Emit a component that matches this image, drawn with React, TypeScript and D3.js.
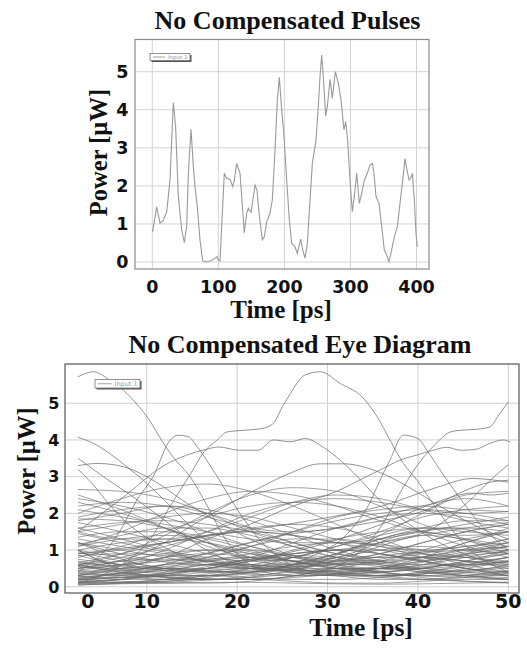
import React from 'react';
import * as d3 from 'd3';

// ---------- Top chart: No Compensated Pulses ----------
const pulseTitle = 'No Compensated Pulses';
const pulseTimes = [0,0.5,6.6,11.7,16.7,21.8,26.8,31.8,35.3,39.4,44.5,48.5,52,54.6,58.6,62.1,64.6,68.1,72.2,76.3,82.3,89.9,95,97.5,100,102.5,106,109,112.6,117.6,121.7,124.2,127.7,132.8,135.3,139.3,142.9,145.4,149.5,153,155.5,158.5,161.6,166.6,169.6,173.2,178.2,181.7,185.8,189.3,192.3,195.9,199.4,203.5,207.4,211,216,219.5,224.6,227.7,231.2,234.7,238.8,242.3,247.8,251.3,253.9,256.4,258.9,262.5,265,269,272.5,277.1,281.6,285.7,290.2,292.8,295.8,299.3,302.8,305.8,309.5,313.4,317,321,325.5,329.6,333.1,335.6,338.7,343.2,347.3,351.2,354.9,358.4,362.4,365.9,371,375,379.1,382.6,385.1,388.7,391.2,393.7,396.7,399.2,401.2];
const pulsePower = [0.86,0.8,1.45,1.02,1.1,1.32,2.15,4.19,3.55,1.72,0.84,0.51,0.93,2.33,3.49,2.5,1.98,1.45,0.58,0.03,0.0,0.04,0.1,0.14,0.05,0.03,1.28,2.33,2.2,2.17,1.98,2.15,2.59,2.33,1.72,0.77,1.28,1.41,1.3,1.72,2.02,1.89,1.28,0.58,0.66,1.06,1.28,1.63,2.94,4.26,4.85,4.0,3.29,2.15,1.1,0.49,0.4,0.23,0.6,0.32,0.1,0.49,1.63,2.59,3.2,4.08,4.87,5.44,4.87,3.84,4.08,4.8,4.3,5.0,4.7,4.26,3.47,3.69,3.2,2.15,1.32,1.72,2.33,1.54,1.8,2.15,2.33,2.55,2.59,2.33,1.72,1.54,0.93,0.32,0.18,0.01,0.32,0.62,0.93,1.54,2.15,2.72,2.46,2.15,2.2,2.33,1.63,0.75,0.4];
const pulseXTicks = [0, 100, 200, 300, 400];
const pulseYTicks = [0, 1, 2, 3, 4, 5];

// ---------- Bottom chart: No Compensated Eye Diagram ----------
const eyeTitle = 'No Compensated Eye Diagram';
const eyeXTicks = [10, 20, 30, 40, 50];
const eyeXTickLabels = ['0', '10', '20', '30', '40', '50'];
const eyeXTickPos = [3.5, 10, 20, 30, 40, 50];
const eyeYTicks = [0, 1, 2, 3, 4, 5];

// prominent traces as [time, power] pairs
const eyeTraceA = [[2.4,5.72],[4.1,5.86],[5.9,5.63],[7.4,5.36],[9.0,4.95],[10.4,4.5],[11.5,4.05],[12.9,3.54],[14.8,3.0],[16.7,2.2],[18.7,1.3],[20.9,0.7],[23.6,0.45],[27,0.5],[31.4,0.9],[35.8,1.3],[40.2,1.5],[44.7,1.3],[50,0.9]];
const eyeTraceB = [[2.4,0.1],[7.2,0.6],[10.4,1.3],[12.6,2.2],[15.1,3.18],[16.2,3.63],[17.8,4.0],[18.9,4.22],[21.1,4.27],[22.9,4.32],[24,4.45],[25,4.9],[25.9,5.27],[27.5,5.77],[29.2,5.86],[31.4,5.54],[33.8,5.18],[35.5,4.63],[36.9,4.0],[38.4,3.36],[39.9,2.9],[42.4,2.0],[45.8,1.0],[50,0.4]];
const eyeTraceD = [[2.4,1.0],[10.4,0.3],[21.4,0.2],[30.3,0.5],[35.8,1.6],[38.6,2.8],[40.2,3.4],[41.3,3.72],[42.4,4.0],[43.6,4.22],[45,4.27],[46.5,4.29],[48,4.36],[48.8,4.63],[50,5.04]];
const eyeTraceE = [[2.4,4.07],[4.1,3.91],[5.9,3.63],[7.8,3.27],[9.6,2.91],[12.6,2.2],[15.9,1.4],[20.3,0.8],[25.9,0.6],[32.5,0.9],[38,1.4],[43.6,1.6],[50,1.2]];
const eyeTraceF = [[2.4,1.5],[7.2,2.4],[11.9,3.3],[16.7,3.75],[17.9,3.81],[20.3,3.72],[22.3,3.72],[24,4.0],[25.9,3.95],[27.5,4.04],[29.5,3.81],[31.4,3.45],[33.3,3.0],[36,2.3],[40.3,1.5],[45,0.9],[50,0.6]];
const eyeTraceF2 = [[2.4,1.0],[7.2,0.6],[12,0.8],[16.7,1.3],[21.4,1.7],[26.2,2.2],[31,2.6],[34.3,3.0],[36.2,3.23],[38,3.45],[39.9,3.59],[41.7,3.72],[43.2,3.8],[44.7,3.72],[46.3,3.74],[48,3.91],[49.4,4.0],[50.2,3.95]];
const eyeTraceJ = [[2.4,0.4],[7,1.5],[8.9,2.36],[10.7,3.0],[12.6,4.0],[13.5,4.13],[14.6,4.09],[15.6,3.81],[17.8,3.0],[20.3,2.0],[23.6,1.0],[29.2,0.4],[35.8,0.5],[43.6,0.8],[50,1.1]];
const eyeTraceJ2 = [[2.4,1.2],[12,0.5],[21.4,0.4],[28,0.8],[32,1.4],[34.7,2.3],[35.8,2.9],[36.9,3.45],[38.4,4.13],[40,4.04],[41,3.72],[42.4,3.2],[44.7,2.4],[46.9,1.7],[50,1.0]];
const eyeTraceH = [[2.4,3.3],[4.5,3.36],[6.7,3.31],[8.5,3.18],[10,3.0],[12,2.7],[13.7,2.4],[17,1.9],[21.4,1.3],[27,0.8],[33.6,0.6],[40.2,0.8],[50,1.3]];
const eyeTraceH2 = [[2.4,0.5],[10.4,1.0],[15.9,1.8],[22.5,2.7],[25.9,3.1],[29.2,3.35],[31.9,3.35],[34.2,3.25],[36.4,3.05],[39.1,2.7],[42.4,2.2],[46.9,1.6],[50,1.3]];
const eyeTraceG = [[2.4,3.5],[3.7,3.27],[5.2,3.0],[8.2,2.5],[11.5,1.9],[15.9,1.1],[21.4,0.5],[27,0.3],[35.8,0.4],[43.6,0.6],[50,0.8]];
const eyeTraceI = [[2.4,3.2],[4,2.8],[6,2.2],[8,1.7],[11,1.2],[16,0.7],[22,0.5],[30,0.6],[38,0.9],[45,1.0],[50,1.1]];
const eyeTraceR1 = [[2.4,0.6],[10,0.3],[18,0.2],[25,0.4],[32,0.8],[37,1.2],[41.7,1.6],[45.5,2.3],[48,2.9],[50,3.33]];
const eyeTraceR2 = [[2.4,0.2],[10,0.5],[18,1.0],[25,1.4],[31,1.6],[36,1.8],[41,2.1],[45,2.6],[48,2.85],[50,2.9]];
const eyeTraceR3 = [[2.4,1.2],[9,0.8],[16,0.6],[23,0.8],[30,1.2],[37,1.8],[42,2.3],[46,2.55],[48,2.5],[50,2.55]];
const eyeTraceR4 = [[2.4,0.9],[12,1.2],[20,1.5],[28,1.8],[36,2.2],[42,2.7],[46,2.95],[50,2.85]];

// dense traces sampled on a common time grid
const eyeTimes = [2.4, 7.2, 12, 16.7, 21.5, 26.2, 31, 35.8, 40.5, 45.3, 50];
const eyeDense = [
  [1.85,1.8,1.6,1.2,0.8,0.5,0.4,0.5,0.8,1.2,1.5],
  [1.8,2.0,2.2,2.1,1.8,1.4,1.0,0.7,0.5,0.4,0.4],
  [1.6,1.3,1.0,0.8,0.7,0.8,1.1,1.5,1.9,2.1,2.2],
  [1.5,1.7,1.9,2.0,1.9,1.6,1.3,1.1,1.0,1.1,1.3],
  [1.2,1.0,0.8,0.6,0.5,0.6,0.9,1.3,1.6,1.8,1.8],
  [1.15,1.4,1.6,1.6,1.4,1.1,0.8,0.6,0.5,0.6,0.8],
  [0.95,0.7,0.5,0.4,0.4,0.6,0.9,1.2,1.4,1.3,1.1],
  [0.6,0.8,1.1,1.4,1.6,1.7,1.6,1.3,0.9,0.6,0.4],
  [0.55,0.4,0.3,0.3,0.4,0.6,0.8,1.0,1.1,1.0,0.9],
  [0.5,0.6,0.7,0.9,1.2,1.5,1.8,2.0,2.1,2.0,1.8],
  [0.4,0.3,0.2,0.2,0.3,0.4,0.5,0.5,0.4,0.3,0.2],
  [0.3,0.5,0.8,1.0,1.0,0.8,0.6,0.4,0.3,0.3,0.4],
  [0.2,0.15,0.1,0.1,0.15,0.3,0.5,0.7,0.8,0.7,0.5],
  [0.15,0.2,0.3,0.5,0.7,0.9,1.0,0.9,0.7,0.5,0.3],
  [0.1,0.1,0.15,0.2,0.2,0.15,0.1,0.1,0.15,0.2,0.2],
  [2.3,2.0,1.6,1.2,0.9,0.7,0.7,0.9,1.2,1.5,1.7],
  [2.4,2.2,1.9,1.5,1.1,0.8,0.6,0.5,0.6,0.8,1.0],
  [2.65,2.6,2.4,2.0,1.5,1.1,0.8,0.7,0.8,1.0,1.2],
  [0.8,1.1,1.5,1.9,2.2,2.3,2.2,1.9,1.5,1.1,0.8],
  [1.0,0.8,0.7,0.8,1.1,1.5,1.9,2.1,2.2,2.1,2.05],
  [0.7,0.5,0.4,0.5,0.7,1.0,1.3,1.5,1.6,1.5,1.4],
  [0.45,0.6,0.8,0.9,0.8,0.6,0.4,0.3,0.35,0.5,0.7],
  [0.35,0.3,0.35,0.5,0.7,0.9,1.0,0.9,0.7,0.5,0.35],
  [0.25,0.35,0.5,0.6,0.6,0.5,0.35,0.25,0.2,0.25,0.35],
  [0.12,0.2,0.35,0.55,0.75,0.85,0.8,0.65,0.45,0.3,0.2],
  [0.05,0.08,0.1,0.12,0.12,0.1,0.08,0.07,0.08,0.1,0.12],
  [1.3,1.1,0.9,0.7,0.5,0.4,0.35,0.4,0.5,0.7,0.9],
  [1.75,1.5,1.2,0.9,0.6,0.4,0.3,0.3,0.4,0.6,0.8],
  [1.6,1.75,1.8,1.7,1.5,1.2,0.9,0.7,0.6,0.6,0.7],
  [0.9,1.0,1.2,1.4,1.5,1.4,1.2,0.9,0.7,0.5,0.4],
  [0.6,0.45,0.35,0.3,0.35,0.5,0.7,0.9,1.2,1.5,1.7],
  [0.5,0.7,0.9,1.0,0.9,0.7,0.5,0.5,0.6,0.9,1.2],
  [0.3,0.2,0.2,0.3,0.5,0.8,1.1,1.4,1.6,1.6,1.5],
  [0.2,0.3,0.5,0.8,1.1,1.3,1.3,1.1,0.8,0.5,0.3],
  [0.18,0.25,0.3,0.3,0.25,0.2,0.2,0.25,0.35,0.45,0.5],
  [0.1,0.2,0.4,0.6,0.6,0.45,0.3,0.2,0.2,0.3,0.45],
  [1.1,1.3,1.4,1.3,1.0,0.7,0.5,0.4,0.5,0.7,1.0],
  [0.75,0.6,0.5,0.5,0.6,0.8,1.0,1.0,0.9,0.8,0.7],
  [2.1,1.9,1.7,1.5,1.3,1.2,1.2,1.3,1.5,1.7,1.9],
  [0.4,0.5,0.6,0.7,0.8,0.9,1.0,1.2,1.4,1.6,1.75],
  [1.45,1.2,0.95,0.75,0.6,0.55,0.6,0.75,0.95,1.1,1.2],
  [0.65,0.9,1.2,1.4,1.5,1.4,1.2,1.0,0.8,0.7,0.65],
  [0.28,0.25,0.3,0.4,0.55,0.65,0.65,0.55,0.4,0.3,0.25],
  [0.08,0.12,0.2,0.3,0.4,0.45,0.4,0.3,0.2,0.15,0.12],
  [1.9,2.1,2.2,2.0,1.6,1.2,0.9,0.8,0.9,1.2,1.6],
  [0.85,0.6,0.45,0.5,0.8,1.2,1.6,1.9,2.0,1.9,1.7],
  [0.22,0.4,0.6,0.75,0.8,0.7,0.5,0.35,0.3,0.4,0.6],
  [1.0,1.2,1.3,1.2,0.95,0.7,0.6,0.7,1.0,1.3,1.5],
  [0.15,0.12,0.15,0.25,0.4,0.5,0.5,0.4,0.3,0.25,0.2],
  [0.55,0.5,0.55,0.7,0.9,1.1,1.2,1.15,1.0,0.8,0.65],
  [0.35,0.45,0.5,0.45,0.35,0.3,0.35,0.5,0.7,0.9,1.0],
  [1.35,1.5,1.5,1.35,1.1,0.85,0.7,0.65,0.75,0.95,1.1],
  [2.0,2.4,2.7,2.8,2.6,2.2,1.7,1.2,0.9,0.8,0.9],
  [0.6,0.9,1.4,2.0,2.5,2.7,2.6,2.2,1.7,1.3,1.0],
  [1.1,1.5,2.0,2.4,2.6,2.5,2.2,1.8,1.5,1.4,1.5],
  [2.2,2.3,2.2,1.9,1.6,1.5,1.6,1.9,2.2,2.4,2.2],
  [0.3,0.6,1.0,1.5,2.0,2.3,2.4,2.3,2.1,2.0,2.05],
  [1.5,1.3,1.3,1.5,1.9,2.3,2.5,2.4,2.1,1.8,1.6],
  [2.5,2.1,1.6,1.1,0.8,0.7,0.9,1.4,2.0,2.5,2.6],
  [0.05,0.1,0.2,0.35,0.5,0.6,0.55,0.4,0.25,0.15,0.1],
  [0.45,0.35,0.25,0.2,0.2,0.25,0.35,0.45,0.55,0.6,0.6],
  [0.65,0.55,0.45,0.4,0.45,0.55,0.7,0.8,0.8,0.7,0.55],
  [0.2,0.25,0.35,0.45,0.5,0.45,0.35,0.3,0.35,0.45,0.55],
  [0.85,0.9,0.85,0.7,0.55,0.45,0.45,0.55,0.7,0.85,0.95],
  [0.12,0.1,0.12,0.18,0.25,0.35,0.45,0.5,0.5,0.4,0.3],
  [0.58,0.7,0.75,0.7,0.55,0.4,0.3,0.3,0.4,0.55,0.7],
  [0.32,0.35,0.45,0.6,0.75,0.8,0.75,0.6,0.45,0.35,0.3],
];

const eyeProminent = [eyeTraceA, eyeTraceB, eyeTraceD, eyeTraceE, eyeTraceF, eyeTraceF2, eyeTraceJ, eyeTraceJ2, eyeTraceH, eyeTraceH2, eyeTraceG, eyeTraceI, eyeTraceR1, eyeTraceR2, eyeTraceR3, eyeTraceR4];

const legendLabel = 'Input 1';
const yLabel = 'Power [µW]';
const xLabel = 'Time [ps]';

const SERIF = "'Liberation Serif', 'Times New Roman', serif";
const SANS = "'DejaVu Sans', Verdana, sans-serif";

function Legend({ x, y, w, h, fs }: { x: number; y: number; w: number; h: number; fs: number }) {
  return (
    <g>
      <rect x={x + 1.5} y={y + 1.5} width={w} height={h} fill="#555" />
      <rect x={x} y={y} width={w} height={h} fill="#fff" stroke="#777" strokeWidth={0.8} />
      <line x1={x + 3} x2={x + 3 + w * 0.3} y1={y + h / 2} y2={y + h / 2} stroke="#888" strokeWidth={0.8} />
      <text x={x + 6 + w * 0.3} y={y + h / 2 + fs * 0.36} fontSize={fs} fill="#999" fontFamily={SANS}>{legendLabel}</text>
    </g>
  );
}

export default function App() {
  // top chart layout
  const tL = 135, tR = 429, tT = 39.5, tB = 269;
  const xTop = d3.scaleLinear().domain([-26.2, 418.9]).range([tL, tR]);
  const yTop = d3.scaleLinear().domain([-0.184, 5.846]).range([tB, tT]);
  const pulseLine = d3.line<number>()
    .x((_, i) => xTop(pulseTimes[i]))
    .y((d) => yTop(d));

  // bottom chart layout
  const bL = 65, bR = 519, bT = 364, bB = 593;
  const xEye = d3.scaleLinear().domain([0.96, 51.18]).range([bL, bR]);
  const yEye = d3.scaleLinear().domain([-0.17, 6.07]).range([bB, bT]);
  const eyeLinePairs = d3.line<number[]>()
    .x((d) => xEye(d[0]))
    .y((d) => yEye(d[1]))
    .curve(d3.curveMonotoneX);
  const eyeLineDense = d3.line<number>()
    .x((_, i) => xEye(eyeTimes[i]))
    .y((d) => yEye(d))
    .curve(d3.curveMonotoneX);

  return (
    <svg width={527} height={648} style={{ position: 'absolute', left: 0, top: 0, background: '#fff' }}>
      <rect width={527} height={648} fill="#fff" />
      {/* ---------- top chart ---------- */}
      <text x={287.5} y={29} textAnchor="middle" fontFamily={SERIF} fontWeight="bold" fontSize={26} fill="#111">{pulseTitle}</text>
      <g>
        {pulseXTicks.map((t) => (
          <line key={'tgx' + t} x1={xTop(t)} x2={xTop(t)} y1={tT} y2={tB} stroke="#d4d4d4" strokeWidth={1} />
        ))}
        {pulseYTicks.map((v) => (
          <line key={'tgy' + v} x1={tL} x2={tR} y1={yTop(v)} y2={yTop(v)} stroke="#d4d4d4" strokeWidth={1} />
        ))}
        <rect x={tL} y={tT} width={tR - tL} height={tB - tT} fill="none" stroke="#8a8a8a" strokeWidth={1.2} />
        <path d={pulseLine(pulsePower) || ''} fill="none" stroke="#9a9a9a" strokeWidth={1.1} />
        <Legend x={150} y={53.5} w={40} h={7} fs={5.5} />
        {pulseYTicks.map((v) => (
          <text key={'tyl' + v} x={128.5} y={yTop(v) + 6.3} textAnchor="end" fontFamily={SANS} fontWeight="bold" fontSize={17.5} fill="#111">{v}</text>
        ))}
        {pulseXTicks.map((t) => (
          <text key={'txl' + t} x={xTop(t)} y={293} textAnchor="middle" fontFamily={SANS} fontWeight="bold" fontSize={17.5} fill="#111">{t}</text>
        ))}
        <text transform={`translate(107,152.5) rotate(-90)`} textAnchor="middle" fontFamily={SERIF} fontWeight="bold" fontSize={24.5} fill="#111">{yLabel}</text>
        <text x={281} y={318} textAnchor="middle" fontFamily={SERIF} fontWeight="bold" fontSize={25} fill="#111">{xLabel}</text>
      </g>

      {/* ---------- bottom chart ---------- */}
      <text x={300} y={353} textAnchor="middle" fontFamily={SERIF} fontWeight="bold" fontSize={26} fill="#111">{eyeTitle}</text>
      <g>
        {eyeXTicks.map((t) => (
          <line key={'bgx' + t} x1={xEye(t)} x2={xEye(t)} y1={bT} y2={bB} stroke="#d0d0d0" strokeWidth={1} />
        ))}
        {eyeYTicks.map((v) => (
          <line key={'bgy' + v} x1={bL} x2={bR} y1={yEye(v)} y2={yEye(v)} stroke="#d0d0d0" strokeWidth={1} />
        ))}
        {eyeDense.map((tr, i) => (
          <path key={'d' + i} d={eyeLineDense(tr) || ''} fill="none" stroke="#6a6a6a" strokeWidth={0.75} strokeOpacity={0.85} />
        ))}
        {eyeProminent.map((tr, i) => (
          <path key={'p' + i} d={eyeLinePairs(tr) || ''} fill="none" stroke="#6a6a6a" strokeWidth={0.8} strokeOpacity={0.9} />
        ))}
        <rect x={bL} y={bT} width={bR - bL} height={bB - bT} fill="none" stroke="#555" strokeWidth={1.2} />
        <Legend x={95} y={379.5} w={45} h={8.5} fs={6.5} />
        {eyeYTicks.map((v) => (
          <text key={'byl' + v} x={59.5} y={yEye(v) + 5.8} textAnchor="end" fontFamily={SANS} fontWeight="bold" fontSize={16} fill="#111">{v}</text>
        ))}
        {eyeXTickLabels.map((lab, i) => (
          <text key={'bxl' + i} x={xEye(eyeXTickPos[i])} y={607.5} textAnchor="middle" fontFamily={SANS} fontWeight="bold" fontSize={19} fill="#111">{lab}</text>
        ))}
        <text transform={`translate(35,471) rotate(-90)`} textAnchor="middle" fontFamily={SERIF} fontWeight="bold" fontSize={24.5} fill="#111">{yLabel}</text>
        <text x={361} y={636} textAnchor="middle" fontFamily={SERIF} fontWeight="bold" fontSize={25.5} fill="#111">{xLabel}</text>
      </g>
    </svg>
  );
}
